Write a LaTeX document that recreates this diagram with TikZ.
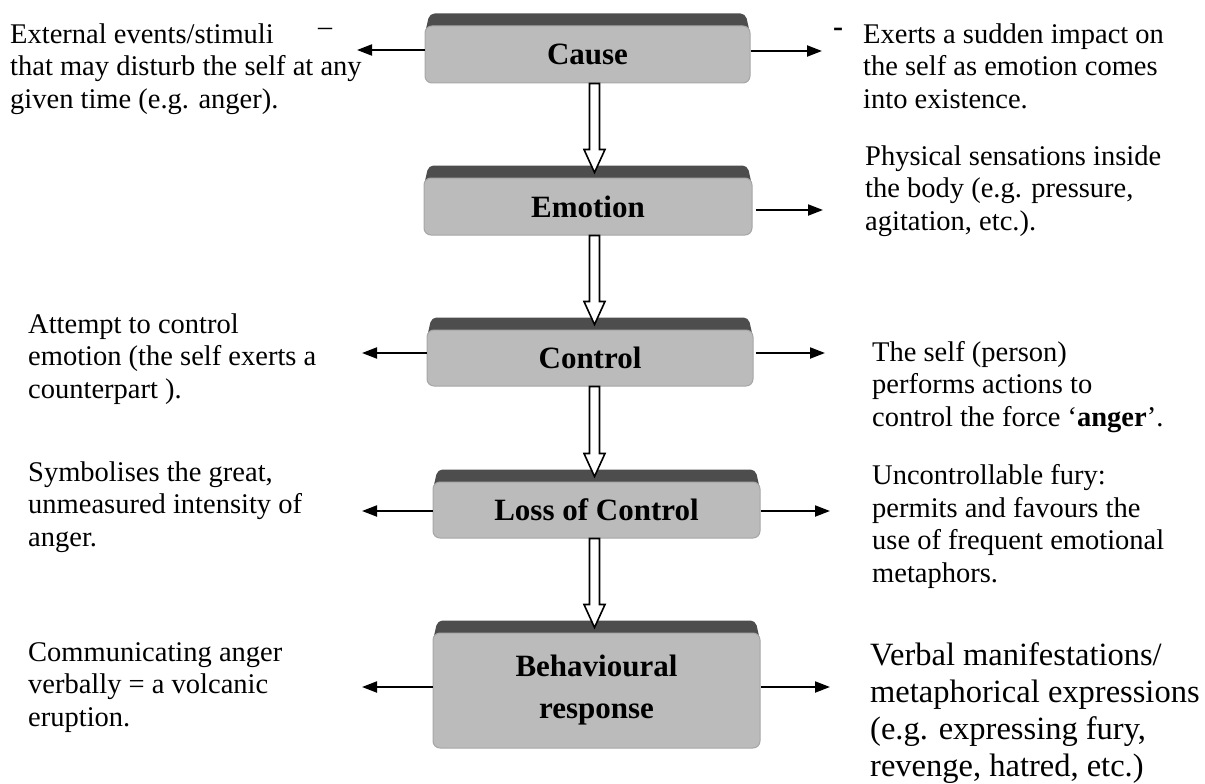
\documentclass[tikz,border=0pt]{standalone}
\usepackage{fontspec}
\setmainfont{Liberation Serif}
\usetikzlibrary{arrows.meta,calc}
\pgfdeclarelayer{background}
\pgfsetlayers{background,main}
\definecolor{boxgray}{HTML}{BBBBBB}
\definecolor{bandgray}{HTML}{4D4D4D}
\definecolor{boxedge}{HTML}{A6A6A6}

% hollow downward arrow from #1 to the tip #2
\newcommand\hollowdown[2]{%
  \draw[line width=1.6pt, fill=white, line join=miter] let \p1=(#1), \p2=(#2) in
    (\x1-5pt,\y1) -- (\x1-5pt,\y2+23pt) -- (\x1-10.5pt,\y2+23pt) -- (\x1,\y2)
    -- (\x1+10.5pt,\y2+23pt) -- (\x1+5pt,\y2+23pt) -- (\x1+5pt,\y1) -- cycle;}

% dark bevel strip along the top edge of a stage box
\newcommand\topband[1]{%
  \begin{pgfonlayer}{background}
    \fill[bandgray, rounded corners=5pt]
      ([yshift=-10pt]#1.north west) -- ([xshift=5pt,yshift=12pt]#1.north west)
      -- ([xshift=-5pt,yshift=12pt]#1.north east) -- ([yshift=-10pt]#1.north east) -- cycle;
  \end{pgfonlayer}}

\begin{document}
\begin{tikzpicture}[x=1pt, y=-1pt,
  stage/.style={fill=boxgray, draw=boxedge, line width=1pt, rounded corners=7pt,
    font=\fontsize{31}{42}\selectfont\bfseries, align=center, inner sep=0pt},
  % multi-line notes are placed by the baseline of their last line
  note/.style={anchor=base west, inner sep=0pt, align=left,
    font=\fontsize{28.5}{32.5}\selectfont},
  bignote/.style={note, font=\fontsize{32.5}{37}\selectfont},
  link/.style={line width=2pt, -{Triangle[length=15pt,width=11pt]}},
  dashmark/.style={inner sep=0pt, anchor=base, font=\fontsize{28}{28}\selectfont}]

\useasboundingbox (0,0) rectangle (1205,784);

% stages
\node[stage, minimum width=325, minimum height=57] (cause) at (587.5,54.5) {Cause};
\topband{cause}
\node[stage, minimum width=328, minimum height=57] (emotion) at (588,206.5) {Emotion};
\topband{emotion}
\node[stage, minimum width=326, minimum height=56] (control) at (590,358) {Control};
\topband{control}
\node[stage, minimum width=327, minimum height=56] (loss) at (596.5,510) {Loss of Control};
\topband{loss}
\node[stage, minimum width=327, minimum height=115] (behav) at (596.5,690.5) {Behavioural\\response};
\topband{behav}

% spine of the hollow arrows
\coordinate (spine) at (594.5,0);
\hollowdown{cause.south -| spine}{[yshift=5pt]emotion.north -| spine}
\hollowdown{emotion.south -| spine}{[yshift=5pt]control.north -| spine}
\hollowdown{control.south -| spine}{[yshift=5pt]loss.north -| spine}
\hollowdown{loss.south -| spine}{[yshift=5pt]behav.north -| spine}

% side arrow ends
\coordinate (causeL) at (357,50);
\coordinate (causeR) at (822,51);
\coordinate (emotionR) at (823,210);
\coordinate (controlL) at (362,353);
\coordinate (controlR) at (825,353);
\coordinate (lossL) at (362,511);
\coordinate (lossR) at (830,511);
\coordinate (behavL) at (362,687);
\coordinate (behavR) at (830,687);

\draw[link] (cause.west |- causeL) -- (causeL);
\draw[link] (cause.east |- causeR) -- (causeR);
\draw[link] ([xshift=3pt]emotion.east |- emotionR) -- (emotionR);
\draw[link] (control.west |- controlL) -- (controlL);
\draw[link] ([xshift=2pt]control.east |- controlR) -- (controlR);
\draw[link] (loss.west |- lossL) -- (lossL);
\draw[link] (loss.east |- lossR) -- (lossR);
\draw[link] (behav.west |- behavL) -- (behavL);
\draw[link] (behav.east |- behavR) -- (behavR);

% descriptions
\node[note] (tCauseL) at (10,108) {External events/stimuli\\that may disturb the self at any\\given time (e.g. anger).};
\node[dashmark] (dashL) at (325,36) {–};
\node[note] (tCauseR) at (863,108) {Exerts a sudden impact on\\the self as emotion comes\\into existence.};
\node[dashmark, font=\fontsize{30}{30}\selectfont\bfseries] (dashR) at (838,37) {-};
\node[note] (tEmotionR) at (865,230) {Physical sensations inside\\the body (e.g. pressure,\\agitation, etc.).};
\node[note] (tControlL) at (28,398) {Attempt to control\\emotion (the self exerts a\\counterpart ).};
\node[note] (tControlR) at (872,426) {The self (person)\\performs actions to\\control the force ‘\textbf{anger}’.};
\node[note] (tLossL) at (28,546) {Symbolises the great,\\unmeasured intensity of\\anger.};
\node[note] (tLossR) at (872,582) {Uncontrollable fury:\\permits and favours the\\use of frequent emotional\\metaphors.};
\node[note] (tBehavL) at (28,726) {Communicating anger\\verbally = a volcanic\\eruption.};
\node[bignote] (tBehavR) at (870,776) {Verbal manifestations/\\metaphorical expressions\\(e.g. expressing fury,\\revenge, hatred, etc.)};

\end{tikzpicture}
\end{document}
